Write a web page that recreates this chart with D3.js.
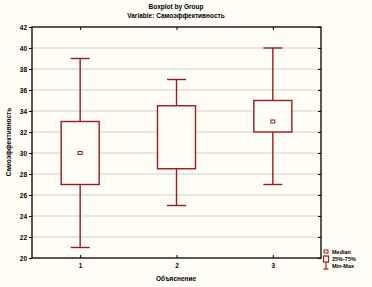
<!DOCTYPE html>
<html><head><meta charset="utf-8">
<script src="https://cdn.jsdelivr.net/npm/d3@7"></script>
<style>
html,body{margin:0;padding:0;background:#fffdf5;}
svg{display:block;}
text{font-family:"Liberation Sans",Arial,sans-serif;fill:#000;}
</style></head>
<body>
<svg id="c" width="372" height="287"></svg>
<script>
const categories = ["1","2","3"];
const whiskerMax = [39, 37, 40];
const boxTop = [33, 34.5, 35];
const medians = [30, null, 33];
const boxBottom = [27, 28.5, 32];
const whiskerMin = [21, 25, 27];
const yTicks = [20,22,24,26,28,30,32,34,36,38,40,42];
const titleLines = ["Boxplot by Group", "Variable: Самоэффективность"];
const xLabel = "Объяснение";
const yLabel = "Самоэффективность";
const legendLabels = ["Median", "25%-75%", "Min-Max"];

const svg = d3.select("#c");
const col = "#9b1b1b";
const L = 32, R = 321, T = 27, B = 258;
const x = d3.scaleLinear().domain([0.5, 3.5]).range([L, R]);
const y = d3.scaleLinear().domain([20, 42]).range([B, T]);

svg.append("rect").attr("x",0).attr("y",0).attr("width",372).attr("height",287).attr("fill","#fffdf5");

// grid
svg.append("g").selectAll("line").data(yTicks.filter(d=>d>20&&d<42)).join("line")
  .attr("x1",L).attr("x2",R).attr("y1",d=>y(d)).attr("y2",d=>y(d))
  .attr("stroke","#cfcfcf").attr("stroke-width",1);

// axes
const ya = svg.append("g").attr("transform",`translate(${L},0)`)
  .call(d3.axisLeft(y).tickValues(yTicks).tickSize(3).tickFormat(d3.format("d")));
ya.selectAll("text").attr("font-size",6.5).attr("font-weight","bold").attr("x",-5);
const yr = svg.append("g").attr("transform",`translate(${R},0)`)
  .call(d3.axisLeft(y).tickValues(yTicks).tickSize(3).tickFormat(""));
const xa = svg.append("g").attr("transform",`translate(0,${B})`)
  .call(d3.axisBottom(x).tickValues([1,2,3]).tickSize(-3).tickFormat((d,i)=>categories[i]));
xa.selectAll("text").attr("font-size",6.5).attr("font-weight","bold").attr("y",5);
const xt = svg.append("g").attr("transform",`translate(0,${T})`)
  .call(d3.axisTop(x).tickValues([1,2,3]).tickSize(-3).tickFormat(""));
[ya,yr,xa,xt].forEach(g=>{g.select(".domain").remove(); g.selectAll("line").attr("stroke","#000");});

svg.append("rect").attr("x",L).attr("y",T).attr("width",R-L).attr("height",B-T)
  .attr("fill","none").attr("stroke","#000").attr("stroke-width",1.3);

// boxes
const bw = 38, cw = 19;
const g = svg.append("g");
categories.forEach((c,i)=>{
  const cx = x(i+1);
  const gg = g.append("g").attr("stroke",col).attr("stroke-width",1.4).attr("fill","none");
  gg.append("line").attr("x1",cx).attr("x2",cx).attr("y1",y(whiskerMax[i])).attr("y2",y(boxTop[i]));
  gg.append("line").attr("x1",cx).attr("x2",cx).attr("y1",y(boxBottom[i])).attr("y2",y(whiskerMin[i]));
  gg.append("line").attr("x1",cx-cw/2).attr("x2",cx+cw/2).attr("y1",y(whiskerMax[i])).attr("y2",y(whiskerMax[i]));
  gg.append("line").attr("x1",cx-cw/2).attr("x2",cx+cw/2).attr("y1",y(whiskerMin[i])).attr("y2",y(whiskerMin[i]));
  gg.append("rect").attr("x",cx-bw/2).attr("y",y(boxTop[i])).attr("width",bw)
    .attr("height",y(boxBottom[i])-y(boxTop[i])).attr("fill","#fffdf5");
  if (medians[i]!=null){
    g.append("rect").attr("x",cx-2).attr("y",y(medians[i])-1.5).attr("width",4).attr("height",3)
      .attr("fill","none").attr("stroke",col).attr("stroke-width",1);
  }
});

// titles
svg.append("text").attr("x",176).attr("y",9).attr("text-anchor","middle").attr("font-size",6.5).attr("font-weight","bold").text(titleLines[0]);
svg.append("text").attr("x",176).attr("y",18).attr("text-anchor","middle").attr("font-size",6.5).attr("font-weight","bold").text(titleLines[1]);
svg.append("text").attr("x",176).attr("y",281).attr("text-anchor","middle").attr("font-size",6.5).attr("font-weight","bold").text(xLabel);
svg.append("text").attr("transform","translate(11,142) rotate(-90)").attr("text-anchor","middle").attr("font-size",6.5).attr("font-weight","bold").text(yLabel);

// legend
const lg = svg.append("g");
const lx = 324, ly = [252, 259, 266];
lg.append("rect").attr("x",lx).attr("y",ly[0]-2).attr("width",4).attr("height",3).attr("fill","none").attr("stroke",col).attr("stroke-width",1);
lg.append("rect").attr("x",lx-0.5).attr("y",ly[1]-3).attr("width",5).attr("height",6).attr("fill","#fffdf5").attr("stroke",col).attr("stroke-width",1.2);
lg.append("line").attr("x1",lx+2).attr("x2",lx+2).attr("y1",ly[1]+3).attr("y2",ly[2]+3).attr("stroke",col).attr("stroke-width",1.2);
lg.append("line").attr("x1",lx-0.5).attr("x2",lx+4.5).attr("y1",ly[2]+3).attr("y2",ly[2]+3).attr("stroke",col).attr("stroke-width",1.2);
legendLabels.forEach((t,i)=>{
  lg.append("text").attr("x",lx+8).attr("y",ly[i]+2).attr("font-size",5.5).attr("font-weight","bold").text(t);
});
</script>
</body></html>
